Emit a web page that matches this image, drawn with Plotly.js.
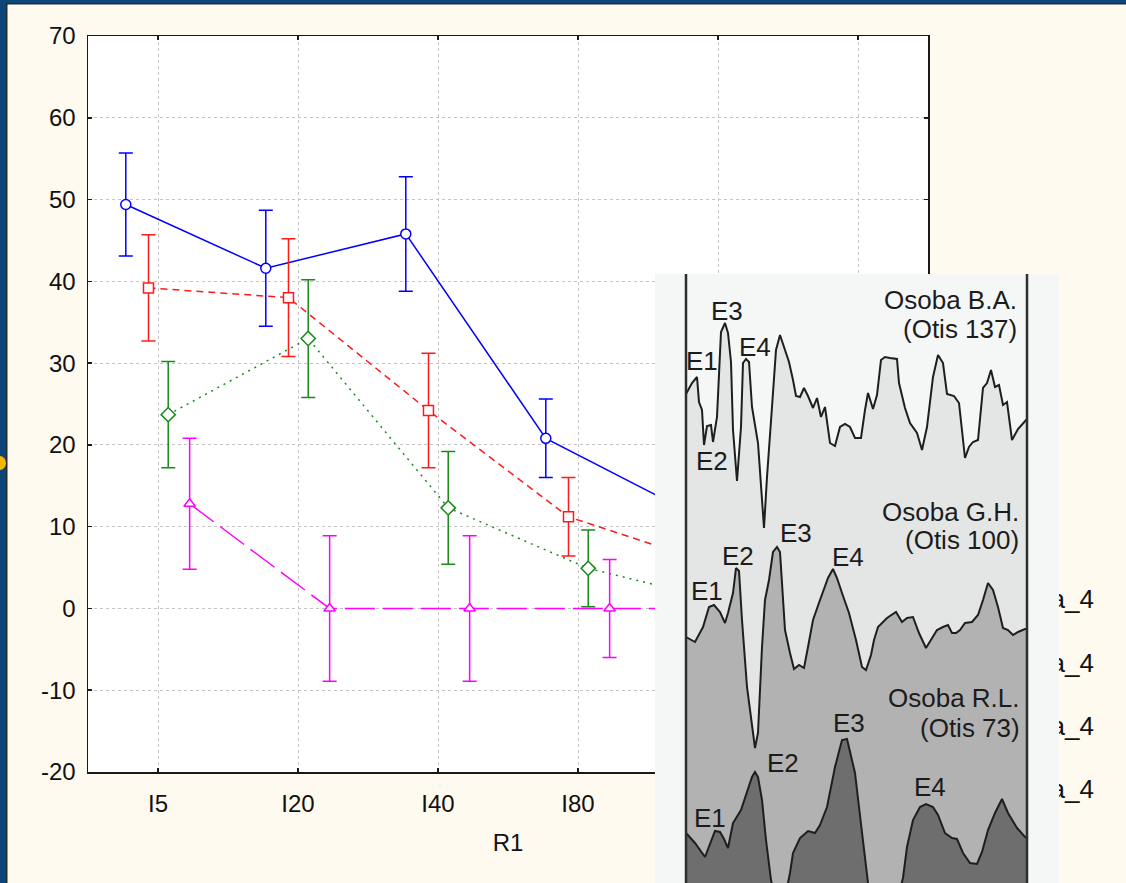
<!DOCTYPE html>
<html>
<head>
<meta charset="utf-8">
<script src="https://cdn.plot.ly/plotly-3.0.1.min.js"></script>
<style>
html,body{margin:0;padding:0;background:#fffaf0;overflow:hidden;}
#chart{width:1126px;height:883px;}
</style>
</head>
<body>
<div id="chart"></div>
<script>
// ---------------- main chart data ----------------
const categories = ['I5', 'I20', 'I40', 'I80', 'I160', 'I320'];
const categoryLabels = ['I5', 'I20', 'I40', 'I80', '', ''];   // last two are hidden under the inset
const yTickValues = [-20, -10, 0, 10, 20, 30, 40, 50, 60, 70];
const yTickLabels = ['-20', '-10', '0', '10', '20', '30', '40', '50', '60', '70'];
const seriesBlue    = [49.4, 41.6, 45.8, 20.8, 12.0, null];
const errBlue       = [6.3, 7.1, 7.0, 4.8, 4.5, null];
const seriesRed     = [39.2, 38.0, 24.2, 11.2, 5.6, null];
const errRed        = [6.5, 7.2, 7.0, 4.8, 4.5, null];
const seriesGreen   = [23.7, 33.0, 12.3, 4.9, 0.7, null];
const errGreen      = [6.5, 7.2, 6.9, 4.7, 4.5, null];
const seriesMagenta = [12.8, 0.0, 0.0, 0.0, 0.0, null];
const errMagenta    = [8.0, 8.9, 8.9, 6.0, 6.0, null];
const xAxisTitle = 'R1';
const legendFragments = ['a_4', 'a_4', 'a_4', 'a_4'];

// ---------------- inset (waveform picture) data ----------------
const waveBA_x = [0,6,11,13,16,18,21,25,27,31,35,39,42,45,47,51,55,57,60,63,66,72,78,81,86,90,94,99,103,107,110,114,118,122,127,131,135,139,144,149,154,159,164,169,175,179,182,187,191,195,199,204,211,213,219,224,231,236,241,247,252,257,261,268,273,279,283,287,292,297,301,305,309,313,317,321,326,332,339,341];
const waveBA_y = [489,500,506,481,473,438,457,458,441,466,551,560,550,521,453,402,456,520,524,521,476,440,355,406,476,533,548,533,521,503,487,486,495,487,475,485,466,476,440,437,456,459,456,445,445,473,490,474,488,523,526,525,524,500,475,460,450,433,456,506,528,520,489,487,480,425,436,441,443,495,500,513,496,498,478,481,443,454,461,464];
const waveGH_x = [0,9,17,23,28,34,39,42,47,50,53,56,61,66,69,72,76,79,83,87,91,94,96,99,104,108,113,118,122,127,134,138,142,147,151,156,163,170,176,180,185,188,192,201,210,216,221,227,233,240,246,251,257,262,266,270,274,279,286,292,297,302,307,312,317,322,327,332,339,341];
const waveGH_y = [246,241,256,276,278,271,260,270,290,315,312,263,196,156,135,150,236,283,303,331,336,331,303,253,230,214,218,215,236,263,283,293,305,314,305,290,270,243,216,213,228,243,256,265,271,261,265,266,250,235,245,253,256,258,250,250,253,260,261,268,283,300,293,276,255,253,248,251,254,254];
const waveRL_x = [0,9,19,24,29,34,38,42,47,55,61,66,69,72,76,80,85,88,100,104,107,114,122,129,134,141,149,156,161,166,169,173,178,182,185,213,217,221,227,234,240,247,252,259,266,271,277,284,291,296,302,309,316,322,331,339,341];
const waveRL_y = [50,40,26,40,52,51,44,35,60,73,90,106,111,106,83,43,3,-10,-10,10,30,45,52,50,58,76,116,143,144,121,110,76,36,0,-10,-10,5,36,63,76,79,76,68,50,45,44,30,20,19,31,53,70,84,70,55,46,45];
const insetLabels = ['Osoba B.A.', '(Otis 137)', 'E3', 'E1', 'E4', 'E2',
                     'Osoba G.H.', '(Otis 100)', 'E3', 'E2', 'E4', 'E1',
                     'Osoba R.L.', '(Otis 73)', 'E3', 'E2', 'E4', 'E1'];

// ---------------- layout geometry ----------------
const W = 1126, H = 883;
const FONT = '"Liberation Sans", Arial, Helvetica, sans-serif';
const offsets = [-0.23, -0.068, 0.073, 0.226];
const idx = categories.map((_, i) => i);

function series(values, errs, k, color, dash, symbol, size) {
  return {
    type: 'scatter', mode: 'lines+markers',
    x: idx.map(i => i + offsets[k]), y: values,
    xaxis: 'x', yaxis: 'y',
    line: {color: color, width: 1.5, dash: dash},
    marker: {symbol: symbol, size: size, color: '#ffffff', line: {color: color, width: 1.5}},
    error_y: {type: 'data', array: errs, visible: true, color: color, thickness: 1.5, width: 7},
    hoverinfo: 'x+y', showlegend: false
  };
}

const traces = [
  series(seriesBlue, errBlue, 0, '#0000ff', 'solid', 'circle', 10),
  series(seriesRed, errRed, 1, '#ff1a1a', '7px,5px', 'square', 10),
  series(seriesGreen, errGreen, 2, '#1a8a1a', '2px,5px', 'diamond', 11),
  series(seriesMagenta, errMagenta, 3, '#ff00ff', '30px,8px', 'triangle-up', 10),
  // legend remnants (own subplot, partly covered by the inset picture)
  {
    type: 'scatter', mode: 'text', x: [54, 54, 54, 54], y: [281.3, 218, 154.7, 91.3],
    text: legendFragments, textposition: 'middle left',
    textfont: {family: FONT, size: 26, color: '#111111'},
    hoverinfo: 'skip', showlegend: false, xaxis: 'x2', yaxis: 'y2'
  },
  // inset waveforms
  {type: 'scatter', mode: 'lines', x: waveBA_x, y: waveBA_y, xaxis: 'x3', yaxis: 'y3',
   fill: 'tozeroy', fillcolor: '#e4e6e6', line: {color: '#1e1e1e', width: 2}, hoverinfo: 'skip', showlegend: false},
  {type: 'scatter', mode: 'lines', x: waveGH_x, y: waveGH_y, xaxis: 'x3', yaxis: 'y3',
   fill: 'tozeroy', fillcolor: '#b2b2b2', line: {color: '#1e1e1e', width: 2}, hoverinfo: 'skip', showlegend: false},
  {type: 'scatter', mode: 'lines', x: waveRL_x, y: waveRL_y, xaxis: 'x3', yaxis: 'y3',
   fill: 'tozeroy', fillcolor: '#6e6e6e', line: {color: '#1e1e1e', width: 2}, hoverinfo: 'skip', showlegend: false}
];

const labelPos = [
  [333, 583, 'right'], [333, 554, 'right'], [40.7, 572, 'center'], [15.7, 522, 'center'], [69, 536, 'center'], [25.7, 422, 'center'],
  [335, 371, 'right'], [335, 343, 'right'], [109.7, 350, 'center'], [52.3, 327, 'center'], [162.3, 326, 'center'], [20.7, 292, 'center'],
  [336, 185, 'right'], [336, 155, 'right'], [163, 160, 'center'], [97.3, 120, 'center'], [244, 96, 'center'], [24, 65, 'center']
];
const annotations = insetLabels.map((t, i) => ({
  xref: 'x3', yref: 'y3', x: labelPos[i][0], y: labelPos[i][1], text: t,
  xanchor: labelPos[i][2], yanchor: 'middle', showarrow: false,
  font: {family: FONT, size: 26, color: '#1c1c1c'}
}));

const navy = '#0c4679';
const shapes = [
  // main plot white background
  {type: 'rect', xref: 'paper', yref: 'paper', x0: 88 / W, x1: 928 / W, y0: (H - 772) / H, y1: (H - 36) / H, fillcolor: '#ffffff', line: {width: 0}, layer: 'below'},
  // page frame pieces
  {type: 'rect', xref: 'paper', yref: 'paper', x0: 0, x1: 6 / W, y0: 0, y1: 1, fillcolor: navy, line: {width: 0}, layer: 'below'},
  {type: 'rect', xref: 'paper', yref: 'paper', x0: 6 / W, x1: 7.5 / W, y0: 0, y1: 1 - 3 / H, fillcolor: '#2a2a2a', line: {width: 0}, layer: 'below'},
  {type: 'rect', xref: 'paper', yref: 'paper', x0: 0, x1: 1, y0: 1 - 3 / H, y1: 1, fillcolor: navy, line: {width: 0}, layer: 'below'},
  {type: 'rect', xref: 'paper', yref: 'paper', x0: 6 / W, x1: 1, y0: 1 - 4.5 / H, y1: 1 - 3 / H, fillcolor: '#2a2a2a', line: {width: 0}, layer: 'below'},
  {type: 'circle', xref: 'paper', yref: 'paper', x0: -7 / W, x1: 6 / W, y0: (H - 470) / H, y1: (H - 456) / H, fillcolor: '#f2b705', line: {width: 0}, layer: 'below'},
  // inset picture background
  {type: 'rect', xref: 'x3', yref: 'y3', x0: -31, x1: 373, y0: 0, y1: 609, fillcolor: '#f5f7f7', line: {width: 0}, layer: 'below'},
  // inset frame verticals
  {type: 'line', xref: 'x3', yref: 'y3', x0: 0, x1: 0, y0: 0, y1: 609, line: {color: '#2e2e2e', width: 2.5}, layer: 'above'},
  {type: 'line', xref: 'x3', yref: 'y3', x0: 341, x1: 341, y0: 0, y1: 609, line: {color: '#2e2e2e', width: 2.5}, layer: 'above'}
];

const axisCommon = {
  showline: true, linecolor: '#1a1a1a', linewidth: 1.5, mirror: 'ticks',
  ticks: 'inside', ticklen: 4, tickwidth: 1.5, tickcolor: '#1a1a1a',
  showgrid: true, gridcolor: '#c4c4c4', gridwidth: 1, griddash: 'dot',
  zeroline: false, tickfont: {family: FONT, size: 24, color: '#111111'}
};

const layout = {
  width: W, height: H,
  margin: {l: 0, r: 0, t: 0, b: 0},
  paper_bgcolor: '#fffaf0', plot_bgcolor: '#fffaf0',
  font: {family: FONT, color: '#111111'},
  showlegend: false,
  xaxis: Object.assign({}, axisCommon, {
    domain: [88 / W, 928 / W], anchor: 'y', range: [-0.5, 5.5],
    tickmode: 'array', tickvals: idx, ticktext: categoryLabels, ticklabelstandoff: 10,
    title: {text: xAxisTitle, font: {family: FONT, size: 24, color: '#111111'}, standoff: 18}
  }),
  yaxis: Object.assign({}, axisCommon, {
    domain: [(H - 772) / H, (H - 36) / H], anchor: 'x', range: [-20, 70],
    tickmode: 'array', tickvals: yTickValues, ticktext: yTickLabels, ticklabelstandoff: 6
  }),
  xaxis2: {domain: [1040 / W, 1], anchor: 'y2', range: [0, 86], visible: false, showgrid: false, zeroline: false, fixedrange: true},
  yaxis2: {domain: [0, 1], anchor: 'x2', range: [0, 883], visible: false, showgrid: false, zeroline: false, fixedrange: true},
  xaxis3: {domain: [655 / W, 1059 / W], anchor: 'y3', range: [-31, 373], visible: false, showgrid: false, zeroline: false, fixedrange: true},
  yaxis3: {domain: [0, (H - 274) / H], anchor: 'x3', range: [0, 609], visible: false, showgrid: false, zeroline: false, fixedrange: true},
  shapes: shapes,
  annotations: annotations
};

Plotly.newPlot('chart', traces, layout, {displayModeBar: false, staticPlot: true});
</script>
</body>
</html>
